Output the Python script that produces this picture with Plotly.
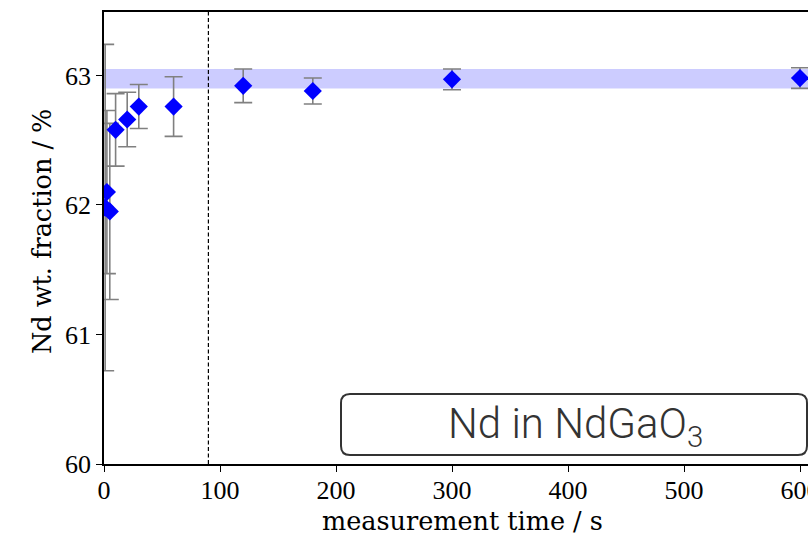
import plotly.graph_objects as go

# ---- data ----
time_s = [1, 2.5, 5, 10, 20, 30, 60, 120, 180, 300, 600]
nd_wt = [61.98, 62.10, 61.95, 62.58, 62.66, 62.76, 62.76, 62.92, 62.88, 62.97, 62.98]
nd_err = [1.26, 0.63, 0.68, 0.28, 0.21, 0.17, 0.23, 0.13, 0.10, 0.08, 0.08]
band_low, band_high = 62.90, 63.05
cutoff_time = 90
x_ticks = [0, 100, 200, 300, 400, 500, 600]
y_ticks = [60, 61, 62, 63]

W, H = 808, 535
L, R, T, B = 104, 0, 12, 71
pw, ph = W - L - R, H - T - B

def px(x):
    return (x - L) / pw

def py(y):
    return (H - B - y) / ph

fig = go.Figure()

fig.add_trace(go.Scatter(
    x=time_s, y=nd_wt, mode="markers",
    marker=dict(symbol="diamond", size=14, color="#0000ff", line=dict(width=0)),
    error_y=dict(type="data", array=nd_err, visible=True, color="#808080",
                 thickness=1.6, width=9),
    cliponaxis=True, showlegend=False,
))

# band
fig.add_shape(type="rect", xref="x domain", yref="y", x0=0, x1=1,
              y0=band_low, y1=band_high, fillcolor="rgba(0,0,255,0.2)",
              line=dict(width=0), layer="below")
# dashed cutoff line
fig.add_shape(type="line", xref="x", yref="y domain", x0=cutoff_time, x1=cutoff_time,
              y0=0, y1=1, line=dict(color="black", width=1.2, dash="4px,2.5px"))

# rounded label box
x0, x1, y0, y1, r = 341, 807, 394, 455, 9
rx, ry = r / pw, r / ph
X0, X1, Y0, Y1 = px(x0), px(x1), py(y1), py(y0)
path = (f"M {X0+rx},{Y1} L {X1-rx},{Y1} Q {X1},{Y1} {X1},{Y1-ry} "
        f"L {X1},{Y0+ry} Q {X1},{Y0} {X1-rx},{Y0} L {X0+rx},{Y0} "
        f"Q {X0},{Y0} {X0},{Y0+ry} L {X0},{Y1-ry} Q {X0},{Y1} {X0+rx},{Y1} Z")
fig.add_shape(type="path", xref="paper", yref="paper", path=path,
              line=dict(color="#333333", width=2), fillcolor="white", layer="above")
fig.add_annotation(xref="paper", yref="paper", x=px(575), y=py(426),
                   text="Nd in NdGaO<sub>3</sub>", showarrow=False,
                   xanchor="center", yanchor="middle",
                   font=dict(family="Roboto", size=42, color="#333333", weight=300))

# axis titles
title_font = dict(family="DejaVu Serif", size=25.5, color="black")
fig.add_annotation(xref="paper", yref="paper", x=px(462), y=py(521),
                   text="measurement time / s", showarrow=False,
                   xanchor="center", yanchor="middle", font=title_font)
fig.add_annotation(xref="paper", yref="paper", x=px(42), y=py(232),
                   text="Nd wt. fraction / %", showarrow=False, textangle=-90,
                   xanchor="center", yanchor="middle", font=title_font)

axis_common = dict(showgrid=False, zeroline=False, ticks="outside", ticklen=6,
                   tickwidth=1.3, tickcolor="black", linecolor="black", linewidth=1.5,
                   showline=True, ticklabeloverflow="allow",
                   tickfont=dict(family="Liberation Serif", size=26, color="black"))
fig.update_xaxes(range=[0, pw / 1.16], tickvals=x_ticks, mirror=True,
                 ticklabelstandoff=-4, **axis_common)
fig.update_yaxes(range=[60, 63.49], tickvals=y_ticks, mirror=False, **axis_common)

fig.update_layout(width=W, height=H, margin=dict(l=L, r=R, t=T, b=B, autoexpand=False),
                  plot_bgcolor="white", paper_bgcolor="white")

fig.write_html("out.html")
